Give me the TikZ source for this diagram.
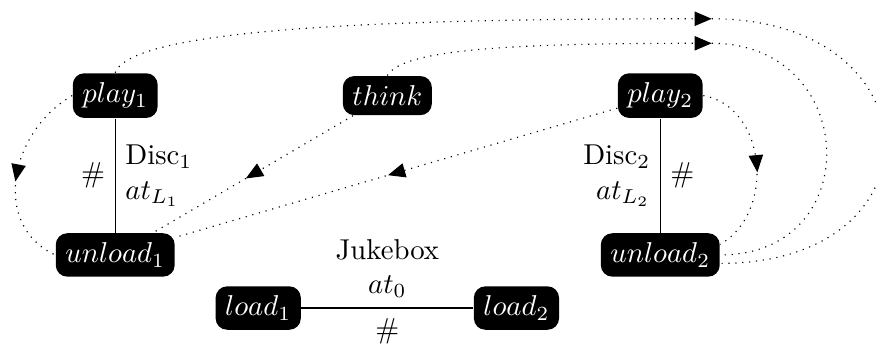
\documentclass[tikz,border=0pt]{standalone}
\usetikzlibrary{arrows.meta,decorations.markings}
\begin{document}
\begin{tikzpicture}[
  >={Triangle[length=6pt,width=5pt]},
  act/.style={fill=black,text=white,rounded corners},
  flow/.style={dotted},
  midarrow/.style={postaction={decorate},decoration={markings,mark=at position #1 with {\arrow[xshift=3pt]{>}}}},
  midarrow/.default=.5]
 \useasboundingbox (0,0) rectangle (10.72,4.2);
 \node[act] (play1) at (1.41,3.03) {$play_1$};
 \node[act] (unload1) at (1.41,1.08) {$unload_1$};
 \node[act] (think) at (4.74,3.03) {$think$};
 \node[act] (play2) at (8.08,3.03) {$play_2$};
 \node[act] (unload2) at (8.08,1.08) {$unload_2$};
 \node[act] (load1) at (3.16,.43) {$load_1$};
 \node[act] (load2) at (6.32,.43) {$load_2$};
 \coordinate (top1) at (8.71,3.97);
 \coordinate (top2) at (8.71,3.67);
 % disc and jukebox links
 \draw (play1) -- (unload1) node[midway,left] {\#} node[midway,right,align=left] {Disc$_1$\\$at_{L_1}$};
 \draw (play2) -- (unload2) node[midway,right] {\#} node[midway,left,align=right] {Disc$_2$\\$at_{L_2}$};
 \draw (load1) -- (load2) node[midway,below] {\#} node[midway,above,align=center] {Jukebox\\$at_0$};
 % dotted flows
 \draw[flow,midarrow] (play1.west) to[out=210,in=155,looseness=1.14] (unload1.west);
 \draw[flow,midarrow] (think) -- (unload1);
 \draw[flow,midarrow] (play2) -- (unload1);
 \draw[flow,midarrow] (play2.east) to[out=-10,in=30,looseness=1.1] (unload2.10);
 \draw[flow,->] (play1.north) .. controls +(70:.6) and +(-3.7,0) .. (top1);
 \draw[flow] (top1) to[out=0,in=0,looseness=2.35] (unload2.-8);
 \draw[flow,->] (think.north) .. controls +(60:.37) and +(-2.45,0) .. (top2);
 \draw[flow] (top2) to[out=0,in=0,looseness=1.78] (unload2.east);
\end{tikzpicture}
\end{document}
